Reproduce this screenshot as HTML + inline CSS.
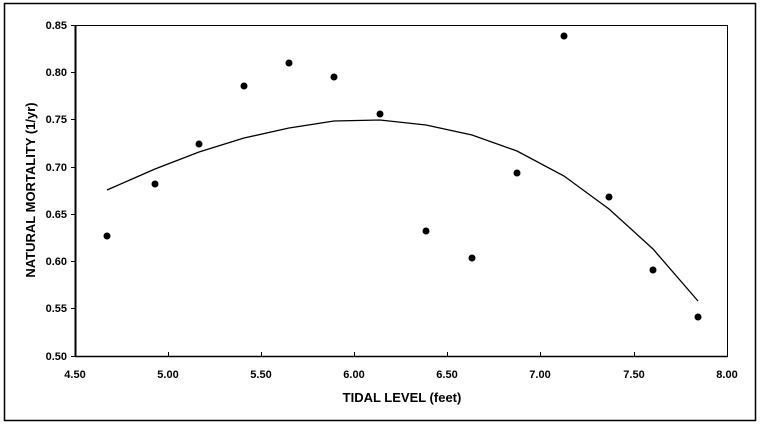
<!DOCTYPE html>
<html><head><style>body{margin:0;background:#fff}svg{display:block}text{font-family:"Liberation Sans",Arial,sans-serif;font-weight:bold;fill:#000}</style></head>
<body>
<svg width="760" height="425" viewBox="0 0 760 425" xmlns="http://www.w3.org/2000/svg">
<rect x="4.5" y="3.5" width="751" height="417" fill="#fff" stroke="#000" stroke-width="1.5"/>
<rect x="75.5" y="25.5" width="652" height="331" fill="none" stroke="#000" stroke-width="1"/>
<line x1="75.5" y1="25" x2="75.5" y2="357" stroke="#000" stroke-width="2"/>
<line x1="75" y1="356.5" x2="728" y2="356.5" stroke="#000" stroke-width="1.5"/>
<g stroke="#000" stroke-width="1">
<line x1="71" y1="25.5" x2="75" y2="25.5"/><line x1="71" y1="72.5" x2="75" y2="72.5"/><line x1="71" y1="119.5" x2="75" y2="119.5"/><line x1="71" y1="167.5" x2="75" y2="167.5"/><line x1="71" y1="214.5" x2="75" y2="214.5"/><line x1="71" y1="261.5" x2="75" y2="261.5"/><line x1="71" y1="308.5" x2="75" y2="308.5"/><line x1="71" y1="356.5" x2="75" y2="356.5"/>
<line x1="168.5" y1="352" x2="168.5" y2="356"/><line x1="261.5" y1="352" x2="261.5" y2="356"/><line x1="354.5" y1="352" x2="354.5" y2="356"/><line x1="447.5" y1="352" x2="447.5" y2="356"/><line x1="540.5" y1="352" x2="540.5" y2="356"/><line x1="634.5" y1="352" x2="634.5" y2="356"/>
</g>
<g font-size="11" text-anchor="end">
<text x="67" y="29">0.85</text><text x="67" y="76">0.80</text><text x="67" y="123">0.75</text><text x="67" y="171">0.70</text><text x="67" y="218">0.65</text><text x="67" y="265">0.60</text><text x="67" y="312">0.55</text><text x="67" y="360">0.50</text>
</g>
<g font-size="11" text-anchor="middle">
<text x="75" y="378">4.50</text><text x="168" y="378">5.00</text><text x="261" y="378">5.50</text><text x="354" y="378">6.00</text><text x="447" y="378">6.50</text><text x="540" y="378">7.00</text><text x="634" y="378">7.50</text><text x="727" y="378">8.00</text>
</g>
<text x="402" y="402" font-size="13" text-anchor="middle">TIDAL LEVEL (feet)</text>
<text transform="translate(35,190) rotate(-90)" font-size="13" text-anchor="middle">NATURAL MORTALITY (1/yr)</text>
<polyline fill="none" stroke="#000" stroke-width="1.3" points="107,190 155,169 199,152 244,138 289,128 334,121 380,120 426,125 472,135 517,151 564,176 609,209 653,249 698,301"/>
<g fill="#000">
<circle cx="107" cy="236" r="3.5"/><circle cx="155" cy="184" r="3.5"/><circle cx="199" cy="144" r="3.5"/><circle cx="244" cy="86" r="3.5"/><circle cx="289" cy="63" r="3.5"/><circle cx="334" cy="77" r="3.5"/><circle cx="380" cy="114" r="3.5"/><circle cx="426" cy="231" r="3.5"/><circle cx="472" cy="258" r="3.5"/><circle cx="517" cy="173" r="3.5"/><circle cx="564" cy="36" r="3.5"/><circle cx="609" cy="197" r="3.5"/><circle cx="653" cy="270" r="3.5"/><circle cx="698" cy="317" r="3.5"/>
</g>
</svg>
</body></html>
